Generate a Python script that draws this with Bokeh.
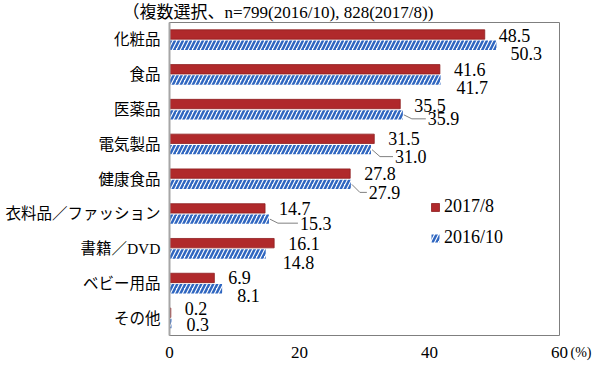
from bokeh.plotting import figure
from bokeh.models import Range1d, FixedTicker, Label, Legend, LegendItem, ColumnDataSource, Title
from bokeh.core.properties import value
from bokeh.embed import file_html
from bokeh.resources import INLINE

# ---- data ----
categories = ["化粧品", "食品", "医薬品", "電気製品", "健康食品",
              "衣料品／ファッション", "書籍／DVD", "ベビー用品", "その他"]
series_2017 = [48.5, 41.6, 35.5, 31.5, 27.8, 14.7, 16.1, 6.9, 0.2]
series_2016 = [50.3, 41.7, 35.9, 31.0, 27.9, 15.3, 14.8, 8.1, 0.3]
x_ticks = [0, 20, 40, 60]
legend_labels = ["2017/8", "2016/10"]
title_text = "（複数選択、n=799(2016/10), 828(2017/8))"
unit_text = "(%)"

# ---- layout (pixels) ----
W, H = 600, 369
BL, BR, BT, BB = 169, 41, 22, 34
FW = W - BL - BR
FH = H - BT - BB
X_MAX = 60
px_x = FW / X_MAX
px_y = FH / len(categories)
BAR_OFF = 0.155
BAR_H = 0.27
red_dx = 14
red_dy = [1, 0, 1, 0, 0, 0, 0, 0, -4]
blue_dx = [14, 16, 25, 24, 18, 31, 17, 15, 15]
blue_dy = [8, 7.5, 4, 7, 8, 4, 9, 7, 1]
leader = [False, False, True, True, True, True, False, False, False]

RED = "#B0292B"
RED_EDGE = "#8E1E20"
BLUE = "#2F66C0"
SERIF = "Liberation Serif, Noto Sans CJK JP"

idx = list(range(len(categories)))

p = figure(width=W, height=H, output_backend="svg", toolbar_location=None,
           x_range=Range1d(0, X_MAX), y_range=Range1d(len(categories) - 0.5, -0.5),
           min_border_left=BL, min_border_right=BR, min_border_top=BT, min_border_bottom=BB)
p.grid.visible = False
p.outline_line_color = "#7f7f7f"
p.outline_line_width = 1
p.background_fill_color = "white"

src = ColumnDataSource(dict(
    y_red=[i - BAR_OFF for i in idx],
    y_blue=[i + BAR_OFF for i in idx],
    v17=series_2017, v16=series_2016,
    t17=[f"{v:.1f}" for v in series_2017],
    t16=[f"{v:.1f}" for v in series_2016],
    lx17=[v + red_dx / px_x for v in series_2017],
    ly17=[i - BAR_OFF + d / px_y for i, d in zip(idx, red_dy)],
    lx16=[v + dx / px_x for v, dx in zip(series_2016, blue_dx)],
    ly16=[i + BAR_OFF + d / px_y for i, d in zip(idx, blue_dy)],
))

r17 = p.hbar(y="y_red", left=0, right="v17", height=BAR_H, source=src,
             fill_color=RED, line_color=RED_EDGE, line_width=0.8)
r16 = p.hbar(y="y_blue", left=0, right="v16", height=BAR_H, source=src,
             fill_color="white", line_color=None,
             hatch_pattern="/", hatch_color=BLUE, hatch_weight=2.5, hatch_scale=8)

# leader lines
xs, ys = [], []
for i, v, dx, dy, has in zip(idx, series_2016, blue_dx, blue_dy, leader):
    if not has:
        continue
    yb = i + BAR_OFF
    yl = yb + dy / px_y
    xs.append([v + 1 / px_x, v + 9 / px_x, v + (dx - 2) / px_x])
    ys.append([yb, yl, yl])
p.multi_line(xs=xs, ys=ys, line_color="#808080", line_width=1)

for xcol, ycol, tcol in (("lx17", "ly17", "t17"), ("lx16", "ly16", "t16")):
    p.text(x=xcol, y=ycol, text=tcol, source=src, text_font=value("Liberation Serif"),
           text_font_size=value("18px"), text_color="black",
           text_align="left", text_baseline="middle")

# axes
p.xaxis.ticker = FixedTicker(ticks=x_ticks)
p.xaxis.axis_line_color = None
p.xaxis.major_tick_line_color = None
p.xaxis.minor_tick_line_color = None
p.xaxis.major_tick_out = 0
p.xaxis.major_tick_in = 0
p.xaxis.major_label_standoff = 11
p.xaxis.major_label_text_font = "Liberation Serif"
p.xaxis.major_label_text_font_size = "17px"
p.xaxis.major_label_text_color = "black"

p.yaxis.ticker = FixedTicker(ticks=idx)
p.yaxis.major_label_overrides = {i: c for i, c in zip(idx, categories)}
p.yaxis.axis_line_color = "#a6a6a6"
p.yaxis.axis_line_width = 2
p.yaxis.major_tick_line_color = None
p.yaxis.minor_tick_line_color = None
p.yaxis.major_tick_out = 0
p.yaxis.major_tick_in = 0
p.yaxis.major_label_standoff = 9
p.yaxis.major_label_text_font = SERIF
p.yaxis.major_label_text_font_size = "15.5px"
p.yaxis.major_label_text_color = "black"

# title and unit
p.add_layout(Title(text=title_text, align="left", offset=-47, standoff=1,
                   text_font=SERIF, text_font_size="17px", text_font_style="normal",
                   text_color="black"), "above")
p.add_layout(Label(x=X_MAX + 11 / px_x, y=len(categories) - 0.5 + 17 / px_y, text=unit_text,
                   text_font="Liberation Serif", text_font_size="14px", text_color="black",
                   text_align="left", text_baseline="middle"), "right")

legend = Legend(items=[LegendItem(label=legend_labels[0], renderers=[r17]),
                       LegendItem(label=legend_labels[1], renderers=[r16])],
                location=(261, 87), orientation="vertical",
                glyph_width=10, glyph_height=10, label_height=20, spacing=10,
                padding=0, margin=0, border_line_color=None, background_fill_alpha=0,
                label_text_font="Liberation Serif", label_text_font_size="18px",
                label_text_color="black", label_standoff=4)
p.add_layout(legend)

open("out.html", "w").write(file_html(p, INLINE))
